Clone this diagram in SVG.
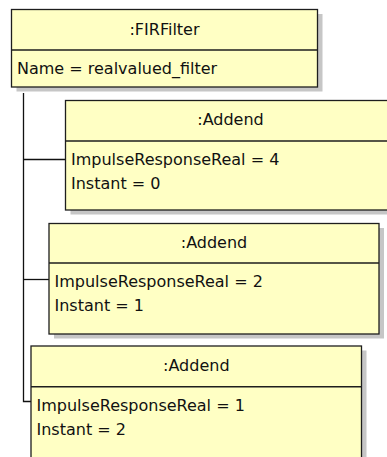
<svg xmlns="http://www.w3.org/2000/svg" width="387" height="457" viewBox="0 0 387 457">
  <style>
    .shadow { fill: #c6c6c6; }
    .box { fill: #ffffc4; stroke: #1e1e1e; stroke-width: 1.3; }
    .sep { stroke: #1e1e1e; stroke-width: 1.6; }
    .link { fill: none; stroke: #111; stroke-width: 1.3; }
    text { font-family: "DejaVu Sans", "Liberation Sans", sans-serif; font-size: 16px; fill: #111; }
    .title { text-anchor: middle; }
  </style>
  <rect width="387" height="457" fill="#ffffff"/>

  <!-- composition links from the filter to its addends -->
  <g id="connectors">
    <path class="link" d="M23.5,93 V401.5 H31"/>
    <path class="link" d="M23.5,159.5 H65.5"/>
    <path class="link" d="M23.5,279.5 H49"/>
  </g>

  <g id="firfilter">
    <rect class="shadow" x="16.5" y="14" width="306" height="77.5"/>
    <rect class="box" x="11.5" y="9.5" width="306" height="77.5"/>
    <line class="sep" x1="11.5" y1="50" x2="317.5" y2="50"/>
    <text class="title" x="164.5" y="34.5">:FIRFilter</text>
    <text x="17" y="73.5">Name = realvalued_filter</text>
  </g>

  <g id="addend1">
    <rect class="shadow" x="70.5" y="105" width="330" height="109.5"/>
    <rect class="box" x="65.5" y="100.5" width="330" height="109.5"/>
    <line class="sep" x1="65.5" y1="141" x2="395.5" y2="141"/>
    <text class="title" x="230.5" y="125">:Addend</text>
    <text x="71" y="165">ImpulseResponseReal = 4</text>
    <text x="71" y="189">Instant = 0</text>
  </g>

  <g id="addend2">
    <rect class="shadow" x="54" y="228" width="330" height="110.5"/>
    <rect class="box" x="49" y="223.5" width="330" height="110.5"/>
    <line class="sep" x1="49" y1="263" x2="379" y2="263"/>
    <text class="title" x="214" y="248">:Addend</text>
    <text x="54.5" y="287">ImpulseResponseReal = 2</text>
    <text x="54.5" y="311">Instant = 1</text>
  </g>

  <g id="addend3">
    <rect class="shadow" x="36" y="350.5" width="330.5" height="120"/>
    <rect class="box" x="31" y="346" width="330.5" height="120"/>
    <line class="sep" x1="31" y1="386.7" x2="361.5" y2="386.7"/>
    <text class="title" x="196.3" y="371">:Addend</text>
    <text x="36.5" y="410.5">ImpulseResponseReal = 1</text>
    <text x="36.5" y="434.5">Instant = 2</text>
  </g>
</svg>
